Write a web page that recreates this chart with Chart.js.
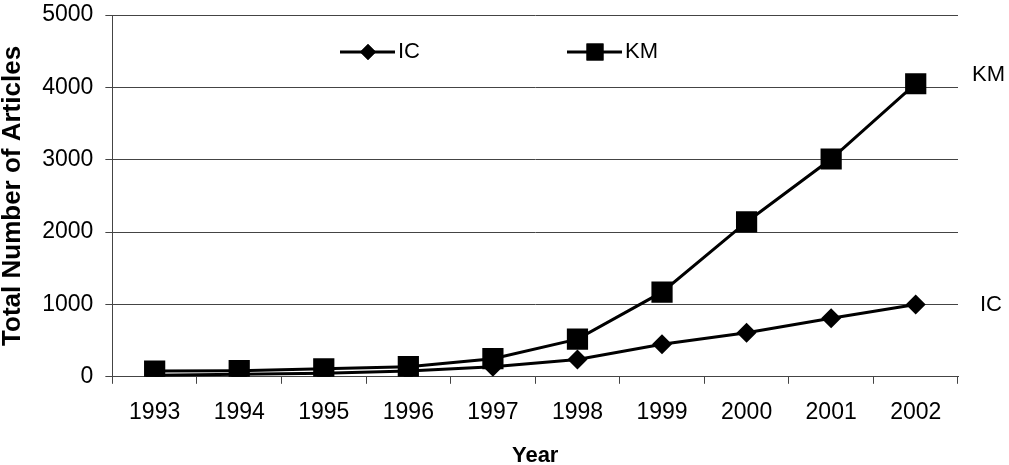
<!DOCTYPE html>
<html>
<head>
<meta charset="utf-8">
<script src="https://cdn.jsdelivr.net/npm/chart.js@4/dist/chart.umd.min.js"></script>
<style>
  html, body { margin: 0; padding: 0; background: #fff; }
  #wrap { width: 1009px; height: 465px; }
</style>
</head>
<body>
<div id="wrap"><canvas id="articlesChart"></canvas></div>
<script>
const years = ["1993", "1994", "1995", "1996", "1997", "1998", "1999", "2000", "2001", "2002"];
const icValues = [20, 35, 50, 80, 140, 240, 450, 610, 810, 1000];
const kmValues = [80, 85, 110, 140, 250, 520, 1170, 2140, 3010, 4050];
const yTicks = [0, 1000, 2000, 3000, 4000, 5000];

const FONT = "'Liberation Sans', Arial, sans-serif";

// legend inside the plot + series names at the right end
const labelsPlugin = {
    id: 'labels',
    afterDraw(chart) {
        const ctx = chart.ctx;
        const area = chart.chartArea;
        ctx.save();
        ctx.font = "22px " + FONT;
        ctx.fillStyle = '#000';
        ctx.textBaseline = 'middle';

        // right-hand series names
        chart.data.datasets.forEach((ds, i) => {
            const meta = chart.getDatasetMeta(i);
            const last = meta.data[meta.data.length - 1];
            const dx = ds.label === 'KM' ? 14 : 22;
            const dy = ds.label === 'KM' ? -9 : 0;
            ctx.fillText(ds.label, area.right + dx, last.y + dy);
        });

        // legend
        const ly = 52;
        const items = [
            { x: 340, style: 'rectRot', r: 8, label: 'IC' },
            { x: 567, style: 'rect', r: 12, label: 'KM' }
        ];
        items.forEach(it => {
            ctx.strokeStyle = '#000';
            ctx.lineWidth = 3;
            ctx.beginPath();
            ctx.moveTo(it.x, ly);
            ctx.lineTo(it.x + 55, ly);
            ctx.stroke();
            Chart.helpers.drawPoint(ctx, { pointStyle: it.style, radius: it.r, borderWidth: 0 }, it.x + 28, ly);
            ctx.fill();
            ctx.fillText(it.label, it.x + 58, ly);
        });
        ctx.restore();
    }
};

new Chart(document.getElementById('articlesChart'), {
    type: 'line',
    data: {
        labels: years,
        datasets: [
            {
                label: 'IC',
                data: icValues,
                borderColor: '#000',
                backgroundColor: '#000',
                borderWidth: 3,
                pointStyle: 'rectRot',
                pointRadius: 10,
                pointBorderWidth: 0,
                tension: 0
            },
            {
                label: 'KM',
                data: kmValues,
                borderColor: '#000',
                backgroundColor: '#000',
                borderWidth: 3,
                pointStyle: 'rect',
                pointRadius: 15,
                pointBorderWidth: 0,
                tension: 0
            }
        ]
    },
    options: {
        responsive: true,
        maintainAspectRatio: false,
        animation: false,
        layout: { padding: { top: 0, right: 51, left: -3, bottom: 0 } },
        plugins: { legend: { display: false }, tooltip: { enabled: false } },
        scales: {
            x: {
                offset: true,
                grid: { offset: true, drawOnChartArea: false, drawTicks: true, tickLength: 7, color: '#444' },
                border: { color: '#444', width: 1 },
                ticks: { color: '#000', font: { family: FONT, size: 23 }, padding: 15, maxRotation: 0 },
                title: { display: true, text: 'Year', color: '#000', font: { family: FONT, size: 22, weight: 'bold', lineHeight: 0.8 }, padding: { top: 6, bottom: 0 } }
            },
            y: {
                min: 0,
                max: 5000,
                afterBuildTicks(scale) { scale.ticks = yTicks.map(v => ({ value: v })); },
                grid: { color: '#444', tickLength: 7 },
                border: { color: '#444', width: 1 },
                ticks: { color: '#000', font: { family: FONT, size: 23, lineHeight: 0.05 }, padding: 12, callback: v => String(v) },
                title: { display: true, text: 'Total Number of Articles', color: '#000', font: { family: FONT, size: 26, weight: 'bold' }, padding: { top: 0, bottom: 2 } }
            }
        }
    },
    plugins: [labelsPlugin]
});
</script>
</body>
</html>
